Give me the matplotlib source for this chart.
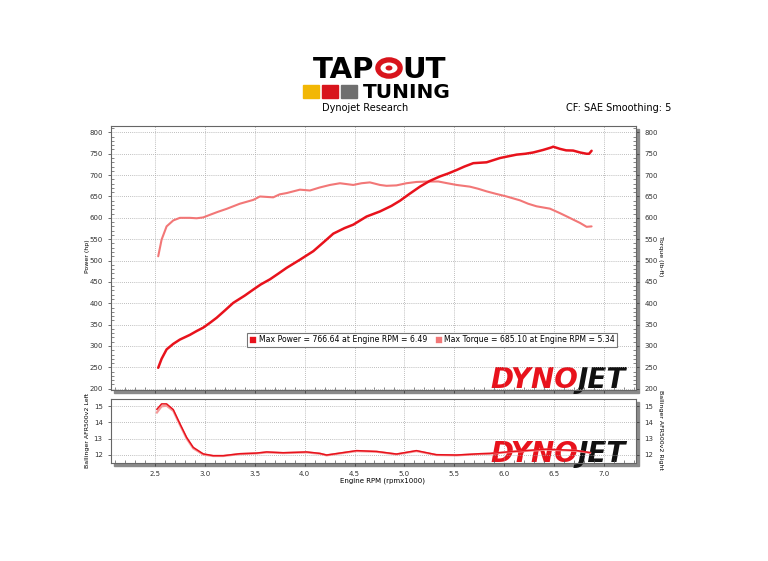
import numpy as np
import matplotlib.pyplot as plt
from matplotlib.patches import Rectangle, Circle
from matplotlib.lines import Line2D
from matplotlib.ticker import MultipleLocator

# power run (hp) vs engine rpm x1000
rpm_power = [2.533, 2.567, 2.617, 2.684, 2.75, 2.85, 2.918, 2.984, 3.05, 3.118, 3.2, 3.285,
             3.4, 3.485, 3.56, 3.652, 3.74, 3.82, 3.953, 4.087, 4.2, 4.287, 4.4, 4.487,
             4.62, 4.755, 4.87, 4.955, 5.05, 5.155, 5.25, 5.356, 5.44, 5.523, 5.6, 5.69,
             5.823, 5.957, 6.04, 6.124, 6.21, 6.29, 6.39, 6.475, 6.49, 6.558, 6.62, 6.69,
             6.76, 6.825, 6.85, 6.875]
power_hp = [249, 270, 292, 305, 315, 326, 335, 343, 354, 366, 383, 401,
            418, 432, 444, 456, 470, 483, 502, 522, 545, 563, 576, 584,
            603, 615, 628, 640, 656, 673, 686, 697, 704, 712, 720, 728,
            730, 740, 744, 748, 750, 753, 759, 765, 766.6, 761.5, 758, 757.5,
            753, 750, 750, 757]

# torque (lb-ft)
rpm_torque = [2.533, 2.567, 2.617, 2.684, 2.75, 2.85, 2.918, 2.984, 3.05, 3.13, 3.218, 3.35,
              3.485, 3.552, 3.685, 3.75, 3.82, 3.953, 4.053, 4.15, 4.254, 4.354, 4.487, 4.57,
              4.654, 4.755, 4.82, 4.92, 5.02, 5.12, 5.23, 5.34, 5.43, 5.523, 5.656, 5.74,
              5.823, 5.92, 6.024, 6.157, 6.24, 6.324, 6.458, 6.558, 6.62, 6.69, 6.76, 6.825,
              6.875]
torque_lbft = [510, 549, 580, 594, 600, 600, 599, 601, 607, 614, 621, 633,
               642, 650, 648, 655, 658, 666, 664, 671, 677, 681, 677, 681,
               683, 677, 675, 676, 681, 684, 685, 685.1, 681, 677, 673, 668,
               662, 656, 650, 641, 633, 627, 621.5, 611, 604, 596, 588, 579,
               580]

# air fuel ratio
rpm_afr = [2.52, 2.567, 2.617, 2.684, 2.75, 2.818, 2.884, 2.984, 3.084, 3.185, 3.35, 3.52,
           3.62, 3.785, 4.02, 4.153, 4.22, 4.354, 4.52, 4.72, 4.92, 5.12, 5.32, 5.523,
           5.756, 5.857, 6.09, 6.42, 6.72, 6.86]
afr_left = [14.8, 15.13, 15.13, 14.78, 13.92, 13.07, 12.46, 12.06, 11.95, 11.95, 12.07, 12.11,
            12.18, 12.13, 12.18, 12.09, 11.99, 12.11, 12.26, 12.21, 12.05, 12.26, 12.01, 11.99,
            12.07, 12.09, 12.21, 12.35, 12.27, 12.14]
afr_right = [14.6, 14.98, 15.02, 14.7, 13.85, 13.0, 12.4, 12.02, 11.93, 11.93, 12.05, 12.09,
             12.15, 12.11, 12.15, 12.07, 11.97, 12.09, 12.23, 12.19, 12.03, 12.23, 11.99, 11.97,
             12.05, 12.07, 12.19, 12.32, 12.25, 12.12]

power_label = 'Max Power = 766.64 at Engine RPM = 6.49'
torque_label = 'Max Torque = 685.10 at Engine RPM = 5.34'

red = '#e8121c'
light = '#f27777'
grid_c = '#a8a8a8'

fig = plt.figure(figsize=(7.68, 5.61), dpi=100)
W, H = 768.0, 561.0


def fx(px):
    return px / W


def fy(py):
    return 1 - py / H


def styleAxes(ax):
    ax.set_xlim(2.06, 7.32)
    ax.xaxis.set_major_locator(MultipleLocator(0.5))
    ax.xaxis.set_minor_locator(MultipleLocator(0.1))
    ax.grid(True, which='major', color=grid_c, linestyle=(0, (1, 1.5)), linewidth=0.6)
    ax.tick_params(which='major', direction='out', length=2.5, width=0.5, labelsize=5,
                   colors='#333333', right=True, labelright=True)
    ax.tick_params(which='minor', direction='in', length=2.5, width=0.5, colors='#555555',
                   right=True)
    for s in ax.spines.values():
        s.set_color('#666666')
        s.set_linewidth(0.8)


def shadow(l, t, r, b):
    fig.patches.append(Rectangle((fx(l + 3), fy(b + 3)), fx(r - l), fy(t) - fy(b),
                                 transform=fig.transFigure, color='#8a8a8a', zorder=-5))


def dynojet(ax, base):
    xs = (578 - 111) / 525.0
    ax.text(xs, base, 'DYNO', transform=ax.transAxes, color=red, fontsize=20,
            fontweight='heavy', fontstyle='italic', ha='right', va='baseline', zorder=1)
    ax.text(xs, base, 'JET', transform=ax.transAxes, color='#111111', fontsize=20,
            fontweight='heavy', fontstyle='italic', ha='left', va='baseline', zorder=1)


# top: power / torque
shadow(111, 126, 636, 390)
ax1 = fig.add_axes([fx(111), fy(390), fx(525), fy(126) - fy(390)])
styleAxes(ax1)
ax1.set_ylim(197, 815)
ax1.yaxis.set_major_locator(MultipleLocator(50))
ax1.yaxis.set_minor_locator(MultipleLocator(10))
ax1.tick_params(axis='x', labelbottom=False)
dynojet(ax1, 0.006)
ax1.plot(rpm_torque, torque_lbft, color=light, lw=1.5, solid_capstyle='round')
ax1.plot(rpm_power, power_hp, color=red, lw=1.8, solid_capstyle='round')
h1 = Line2D([], [], marker='s', linestyle='none', markersize=6, markerfacecolor=red,
            markeredgecolor='white', markeredgewidth=1.2)
h2 = Line2D([], [], marker='s', linestyle='none', markersize=6, markerfacecolor=light,
            markeredgecolor='white', markeredgewidth=1.2)
leg = ax1.legend([h1, h2], [power_label, torque_label], ncol=2, fontsize=5.6,
                 loc='center', bbox_to_anchor=((432 - 111) / 525, (390 - 340) / 264),
                 frameon=True, fancybox=False, edgecolor='#777777', handlelength=1.0,
                 handletextpad=0.2, columnspacing=1.0, borderpad=0.3, borderaxespad=0,
                 framealpha=1)
leg.get_frame().set_linewidth(0.8)

# bottom: AFR
shadow(111, 399, 636, 463)
ax2 = fig.add_axes([fx(111), fy(463), fx(525), fy(399) - fy(463)])
styleAxes(ax2)
ax2.set_ylim(11.5, 15.43)
ax2.yaxis.set_major_locator(MultipleLocator(1))
ax2.yaxis.set_minor_locator(MultipleLocator(1))
ax2.tick_params(axis='y', which='minor', length=0)
dynojet(ax2, 0.02)
ax2.plot(rpm_afr, afr_right, color='#f59a9a', lw=1.6)
ax2.plot(rpm_afr, afr_left, color=red, lw=1.1)

# axis titles
fig.text(fx(88), fy(256), 'Power (hp)', rotation=90, fontsize=4.5, ha='center', va='center')
fig.text(fx(660), fy(256), 'Torque (lb-ft)', rotation=270, fontsize=4.5, ha='center', va='center')
fig.text(fx(88), fy(430), 'Ballinger AFR500v2 Left', rotation=90, fontsize=4.5, ha='center', va='center')
fig.text(fx(660), fy(430), 'Ballinger AFR500v2 Right', rotation=270, fontsize=4.5, ha='center', va='center')
fig.text(fx(382), fy(481), 'Engine RPM (rpmx1000)', fontsize=5, ha='center', va='center')

# header
fig.text(fx(365), fy(108), 'Dynojet Research', fontsize=7, ha='center', va='center')
fig.text(fx(566), fy(108), 'CF: SAE Smoothing: 5', fontsize=7, ha='left', va='center')

# logo
fig.text(fx(374), fy(78), 'TAP', fontsize=21, fontweight='heavy', ha='right', va='baseline')
fig.patches.append(Circle((fx(389), fy(68)), 0.0145, transform=fig.transFigure,
                          facecolor='white', edgecolor='#d8141c', linewidth=3.8))
fig.patches.append(Circle((fx(389), fy(68)), 0.0045, transform=fig.transFigure,
                          facecolor='#d8141c', edgecolor='none'))
fig.text(fx(402), fy(78), 'UT', fontsize=21, fontweight='heavy', ha='left', va='baseline')
fig.text(fx(451), fy(98), 'TUNING', fontsize=14.5, fontweight='heavy', ha='right', va='baseline')
for x0, c in [(303, '#f2b705'), (322, '#d8141c'), (341, '#6f6f6f')]:
    fig.patches.append(Rectangle((fx(x0), fy(98)), fx(16), fy(85) - fy(98),
                                 transform=fig.transFigure, color=c))

fig.savefig('out.png', dpi=100)
